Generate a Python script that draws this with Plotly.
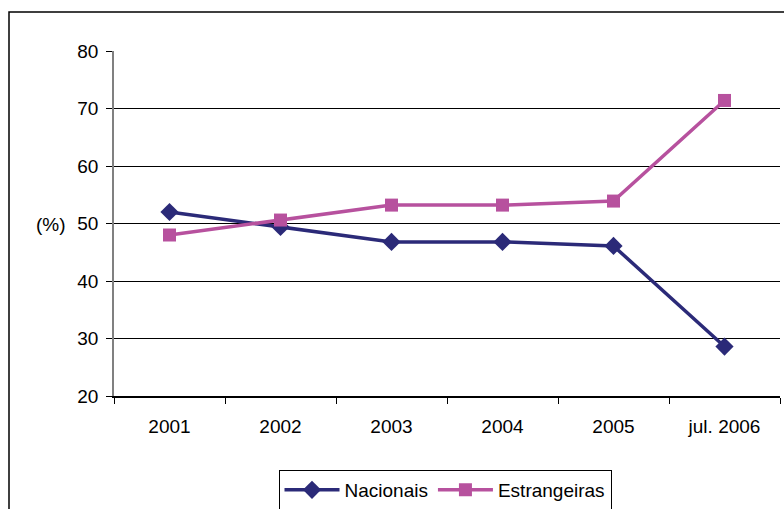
import plotly.graph_objects as go

# Share of each group (%)
periods = ["2001", "2002", "2003", "2004", "2005", "jul. 2006"]
nacionais = [52.0, 49.4, 46.8, 46.8, 46.1, 28.6]
estrangeiras = [48.0, 50.6, 53.2, 53.2, 53.9, 71.4]
y_ticks = [20, 30, 40, 50, 60, 70, 80]

NAVY = "#2B2A78"
PINK = "#B7519E"
FONT = "Liberation Sans, Arial, sans-serif"
FS = 19

fig = go.Figure()
fig.add_trace(go.Scatter(
    x=periods, y=nacionais, name="Nacionais", mode="lines+markers",
    line=dict(color=NAVY, width=3.5),
    marker=dict(symbol="diamond", size=14, color=NAVY),
))
fig.add_trace(go.Scatter(
    x=periods, y=estrangeiras, name="Estrangeiras", mode="lines+markers",
    line=dict(color=PINK, width=3.5),
    marker=dict(symbol="square", size=13, color=PINK),
))

W, H = 784, 509
L, R, T, B = 114, 4, 51, 113
pw, ph = W - L - R, H - T - B

def px_x(px):
    return (px - L) / pw

def px_y(py):
    return 1 - (py - T) / ph

# outer chart frame
fig.add_shape(type="rect", xref="paper", yref="paper",
              x0=px_x(9), x1=px_x(800), y0=px_y(530), y1=px_y(12),
              line=dict(color="black", width=1.5), fillcolor="rgba(0,0,0,0)",
              layer="below")

fig.add_annotation(text="(%)", xref="paper", yref="paper",
                   x=px_x(51), y=px_y(224), xanchor="center", yanchor="middle",
                   showarrow=False,
                   font=dict(size=FS, color="black", family=FONT))

fig.update_layout(
    width=W, height=H,
    margin=dict(l=L, r=R, t=T, b=B, autoexpand=False),
    paper_bgcolor="white", plot_bgcolor="white",
    font=dict(family=FONT, size=FS, color="black"),
    showlegend=True,
    legend=dict(orientation="h", xanchor="center", yanchor="top",
                x=px_x(445), y=px_y(470),
                bordercolor="black", borderwidth=1, bgcolor="white",
                font=dict(size=FS), itemwidth=55, tracegroupgap=0),
    xaxis=dict(type="category", categoryorder="array", categoryarray=periods,
               range=[-0.5, 5.5], showgrid=False, showline=True,
               linecolor="black", linewidth=1.5, ticks="outside",
               tickson="boundaries", ticklen=6, tickcolor="black",
               tickfont=dict(size=FS), ticklabelstandoff=12, zeroline=False),
    yaxis=dict(range=[20, 80], tickvals=y_ticks, showgrid=True,
               gridcolor="black", gridwidth=1, showline=True,
               linecolor="#808080", linewidth=1.5, ticks="outside",
               ticklen=6, tickcolor="black", tickfont=dict(size=FS),
               ticklabelstandoff=4, zeroline=False),
)

fig.write_html("out.html")
